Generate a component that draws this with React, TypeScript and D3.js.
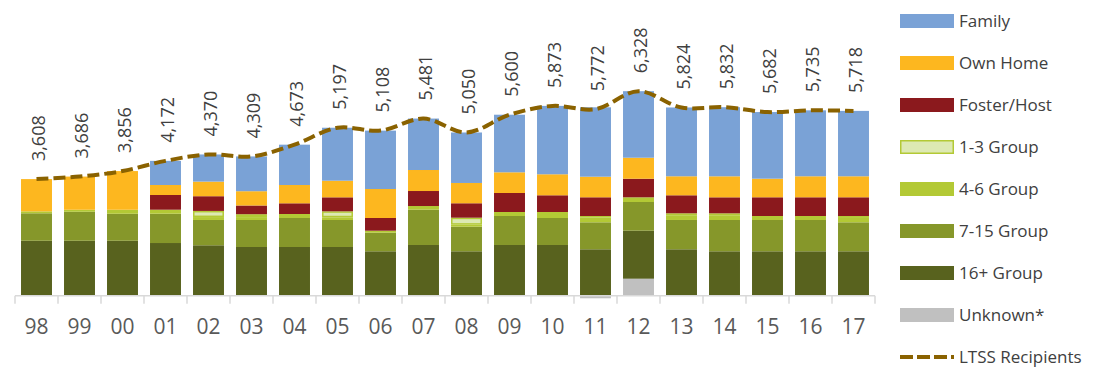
import React from "react";
import * as d3 from "d3";

const years = ["98","99","00","01","02","03","04","05","06","07","08","09","10","11","12","13","14","15","16","17"];
const ltss = [3608,3686,3856,4172,4370,4309,4673,5197,5108,5481,5050,5600,5873,5772,6328,5824,5832,5682,5735,5718];

const unknown = [0,0,0,0,0,0,0,0,0,0,0,0,0,-80,526,0,0,0,0,0];
const group16 = [1700,1700,1700,1630,1560,1507,1507,1507,1374,1569,1374,1569,1569,1436,1485,1436,1374,1374,1374,1374];
const group7_15 = [850,897,835,907,783,835,897,835,575,1092,761,897,835,835,888,907,968,968,968,897];
const group4_6 = [60,62,124,124,90,90,124,84,62,114,62,124,124,145,145,147,147,124,124,135];
const group1_3 = [0,0,0,0,190,90,0,185,0,0,217,0,62,50,0,60,60,0,0,60];
const foster = [0,0,0,455,455,269,331,433,393,464,446,588,517,579,575,557,495,579,579,579];
const ownHome = [998,1027,1197,309,452,442,566,514,897,650,628,640,650,637,650,588,650,575,650,650];
const family = [0,0,0,747,840,1076,1248,1639,1807,1592,1562,1782,2116,2147,2059,2129,2138,2062,2040,2023];

const seriesKeys = ["Unknown*","16+ Group","7-15 Group","4-6 Group","1-3 Group","Foster/Host","Own Home","Family"];
const seriesValues = [unknown, group16, group7_15, group4_6, group1_3, foster, ownHome, family];
const colors: Record<string, string> = {
  "Family": "#7aa2d6",
  "Own Home": "#fdb71f",
  "Foster/Host": "#8b191d",
  "1-3 Group": "#dde9b3",
  "4-6 Group": "#b3c935",
  "7-15 Group": "#86972a",
  "16+ Group": "#58621e",
  "Unknown*": "#c0c0c0",
};
const legendOrder = ["Family","Own Home","Foster/Host","1-3 Group","4-6 Group","7-15 Group","16+ Group","Unknown*"];
const lineLabel = "LTSS Recipients";
const lineColor = "#8a6200";
const FONT = "'Open Sans', sans-serif";

export default function App() {
  const x = d3.scaleBand<string>().domain(years).range([15, 875]).paddingInner(0.28).paddingOuter(0.14);
  const y0 = 295.7;
  const y = d3.scaleLinear().domain([0, 7000]).range([y0, y0 - 7000 * 0.03232]);

  const rows = years.map((yr, i) => {
    const r: any = { year: yr };
    seriesKeys.forEach((k, j) => (r[k] = seriesValues[j][i]));
    return r;
  });
  const stack = d3.stack<any>().keys(seriesKeys).offset(d3.stackOffsetDiverging);
  const layers = stack(rows);

  const cx = (yr: string) => (x(yr) as number) + x.bandwidth() / 2;
  const line = d3.line<number>()
    .x((_, i) => cx(years[i]))
    .y((d) => y(d))
    .curve(d3.curveCatmullRom.alpha(0.5));

  const step = x.step();
  const tickXs = d3.range(years.length + 1).map((i) => 15 + i * step);

  return (
    <svg width={1112} height={380} style={{ position: "absolute", left: 0, top: 0, background: "#fff" }}>
      {/* bars */}
      {layers.map((layer) => (
        <g key={layer.key}>
          {layer.map((d, i) => {
            const v = d[1] - d[0];
            if (Math.abs(v) < 0.5) return null;
            const top = y(Math.max(d[0], d[1]));
            const bot = y(Math.min(d[0], d[1]));
            const is13 = layer.key === "1-3 Group";
            return (
              <rect
                key={i}
                x={(x(years[i]) as number) + (is13 ? 0.75 : 0)}
                width={x.bandwidth() - (is13 ? 1.5 : 0)}
                y={top + (is13 ? 0.75 : 0)}
                height={Math.max(0, bot - top - (is13 ? 1.5 : 0))}
                fill={colors[layer.key]}
                stroke={is13 ? colors["4-6 Group"] : "none"}
                strokeWidth={is13 ? 1.5 : 0}
              />
            );
          })}
        </g>
      ))}
      {/* axis */}
      <line x1={15} x2={875} y1={y0} y2={y0} stroke="#d9d9d9" strokeWidth={1.5} />
      {tickXs.map((tx, i) => (
        <line key={i} x1={tx} x2={tx} y1={y0} y2={y0 + 8} stroke="#d9d9d9" strokeWidth={1.5} />
      ))}
      {years.map((yr) => (
        <text key={yr} x={cx(yr)} y={334} textAnchor="middle" fontFamily={FONT} fontSize={21} fill="#595959">
          {yr}
        </text>
      ))}
      {/* line */}
      <path d={line(ltss) || ""} fill="none" stroke={lineColor} strokeWidth={4} strokeDasharray="12,5" />
      {/* data labels */}
      {ltss.map((v, i) => {
        const px = cx(years[i]) + 2;
        const py = y(v) - 18;
        return (
          <text
            key={i}
            transform={`translate(${px},${py}) rotate(-90)`}
            dy="0.35em"
            textAnchor="start"
            fontFamily={FONT}
            fontSize={18}
            fill="#404040"
          >
            {d3.format(",")(v)}
          </text>
        );
      })}
      {/* legend */}
      {legendOrder.map((k, i) => {
        const ly = 21 + i * 42;
        const is13 = k === "1-3 Group";
        return (
          <g key={k}>
            <rect
              x={is13 ? 900.75 : 900}
              y={ly - 7 + (is13 ? 0.75 : 0)}
              width={is13 ? 52.5 : 54}
              height={is13 ? 12.5 : 14}
              fill={colors[k]}
              stroke={is13 ? colors["4-6 Group"] : "none"}
              strokeWidth={is13 ? 1.5 : 0}
            />
            <text x={959} y={ly} dy="0.35em" fontFamily={FONT} fontSize={17} fill="#404040">
              {k}
            </text>
          </g>
        );
      })}
      <line x1={900} x2={954} y1={357} y2={357} stroke={lineColor} strokeWidth={4} strokeDasharray="13,4" />
      <text x={959} y={357} dy="0.35em" fontFamily={FONT} fontSize={17} fill="#404040">
        {lineLabel}
      </text>
    </svg>
  );
}
